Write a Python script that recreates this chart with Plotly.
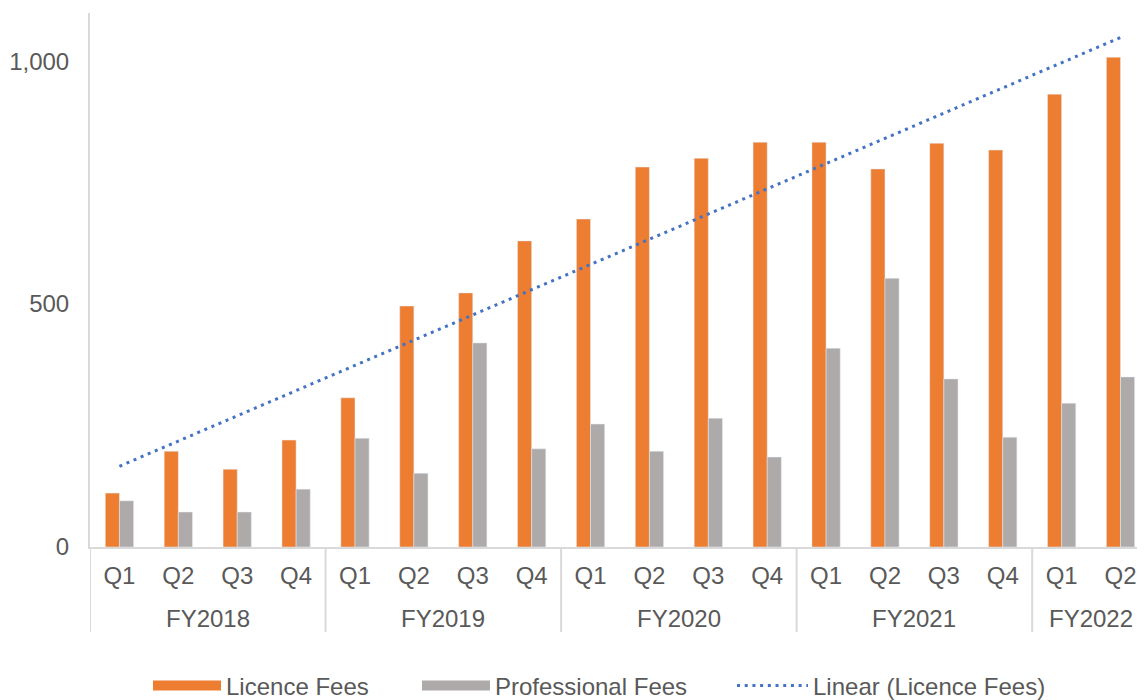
import numpy as np
import plotly.graph_objects as go

years = ["FY2018"] * 4 + ["FY2019"] * 4 + ["FY2020"] * 4 + ["FY2021"] * 4 + ["FY2022"] * 2
quarters = ["Q1", "Q2", "Q3", "Q4"] * 4 + ["Q1", "Q2"]
licence_fees = [111, 197, 160, 220, 307, 496, 523, 630, 675, 782, 800, 833, 833, 778, 831, 817, 932, 1008]
professional_fees = [95, 72, 72, 119, 224, 152, 420, 202, 253, 197, 265, 185, 409, 553, 346, 226, 296, 350]
y_ticks = [0, 500, 1000]

ORANGE = "#ED7D31"
GREY = "#AEAAAA"
BLUE = "#4472C4"
AXIS = "#D9D9D9"
TEXT = "#595959"
FONT = "Liberation Sans, Arial, sans-serif"
DOT = "3px,4.7px"

# Linear trendline of licence fees (least squares, as in the source chart)
idx = np.arange(len(licence_fees))
slope, intercept = np.polyfit(idx + 1, licence_fees, 1)
trend = (slope * (idx + 1) + intercept).tolist()
xs = idx.tolist()

fig = go.Figure()
fig.add_trace(go.Bar(x=xs, y=licence_fees, name="Licence Fees", marker_color=ORANGE, showlegend=False))
fig.add_trace(go.Bar(x=xs, y=professional_fees, name="Professional Fees", marker_color=GREY, showlegend=False))
fig.add_trace(go.Scatter(x=xs, y=trend, name="Linear (Licence Fees)", mode="lines",
                         line=dict(color=BLUE, width=3, dash=DOT), showlegend=False))

# legend entries (wide swatches like the original), one legend box each
fig.add_trace(go.Scatter(x=[None], y=[None], mode="lines", name="Licence Fees",
                         line=dict(color=ORANGE, width=13), legend="legend"))
fig.add_trace(go.Scatter(x=[None], y=[None], mode="lines", name="Professional Fees",
                         line=dict(color=GREY, width=13), legend="legend2"))
fig.add_trace(go.Scatter(x=[None], y=[None], mode="lines", name="Linear (Licence Fees)",
                         line=dict(color=BLUE, width=3, dash=DOT), legend="legend3"))

# fiscal-year group labels and dividers, derived from the data
groups = []
for i, yname in enumerate(years):
    if not groups or groups[-1][0] != yname:
        groups.append([yname, i, i])
    else:
        groups[-1][2] = i

shapes = []
annotations = []
for name, start, end in groups:
    shapes.append(dict(type="line", xref="x", yref="paper", x0=start - 0.5, x1=start - 0.5,
                       y0=0, y1=-0.159, line=dict(color=AXIS, width=2)))
    annotations.append(dict(x=(start + end) / 2, y=-0.133, xref="x", yref="paper", text=name,
                            showarrow=False, xanchor="center", yanchor="middle",
                            font=dict(family=FONT, size=24, color=TEXT)))

legend_common = dict(orientation="h", xanchor="left", y=-0.260, yanchor="middle",
                     font=dict(family=FONT, size=24, color=TEXT), bgcolor="rgba(0,0,0,0)")

# the page body adds an 8px offset, so the figure is sized to fit the visible window
fig.update_layout(
    width=1129, height=692,
    margin=dict(l=82, r=0, t=5, b=153, autoexpand=False),
    plot_bgcolor="white", paper_bgcolor="white",
    barmode="group", bargap=0.52, bargroupgap=0,
    font=dict(family=FONT, size=24, color=TEXT),
    showlegend=True,
    legend=dict(x=0.0554, itemwidth=68, **legend_common),
    legend2=dict(x=0.3123, itemwidth=68, **legend_common),
    legend3=dict(x=0.6132, itemwidth=71, **legend_common),
    shapes=shapes, annotations=annotations,
)
fig.update_xaxes(
    range=[-0.5, 17.28], tickvals=xs, ticktext=quarters, automargin=False,
    showline=True, linecolor=AXIS, linewidth=2, showgrid=False, zeroline=False,
    ticks="", ticklabelstandoff=6, tickfont=dict(size=24, color=TEXT),
)
fig.update_yaxes(
    range=[0, 1099], tickvals=y_ticks, tickformat=",", automargin=False,
    showline=True, linecolor=AXIS, linewidth=2, showgrid=False, zeroline=False,
    ticks="", ticklabelstandoff=14, tickfont=dict(size=24, color=TEXT),
)

fig.write_html("out.html")
